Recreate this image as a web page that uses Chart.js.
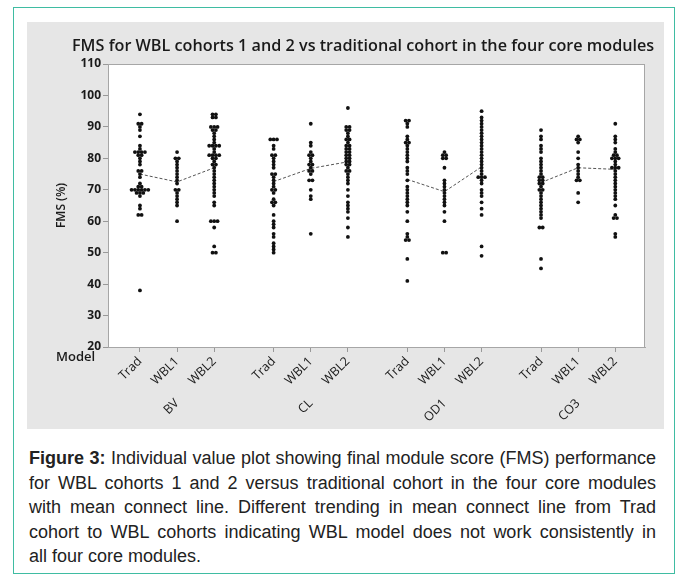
<!DOCTYPE html>
<html>
<head>
<meta charset="utf-8">
<script src="https://cdn.jsdelivr.net/npm/chart.js@4.4.1/dist/chart.umd.min.js"></script>
<style>
  body { margin: 0; background: #fff; width: 682px; height: 578px; position: relative; overflow: hidden; }
  #frame { position: absolute; left: 13px; top: 7px; width: 662px; height: 567px; border: 1.5px solid #3fbca2; box-sizing: border-box; }
  #panel { position: absolute; left: 27px; top: 22px; width: 637px; height: 407px; background: #e6e6e6; }
  #panel canvas { position: absolute; left: 0; top: 0; }
  #title { position: absolute; left: 45px; top: 12px; white-space: nowrap; font: 600 16.2px 'Open Sans', sans-serif; color: #1a1a1a; }
  #model { position: absolute; left: 29px; top: 325px; font: 600 13px 'Open Sans', sans-serif; color: #1a1a1a; }
  #caption { position: absolute; left: 29px; top: 446px; width: 627px; font: 18px 'Liberation Sans', Arial, sans-serif; line-height: 24.5px; color: #222; }
  #caption .j { text-align: justify; text-align-last: justify; white-space: nowrap; }
  #caption b { font-weight: bold; }
</style>
</head>
<body>
<div id="frame"></div>
<div id="panel">
  <canvas id="fmsChart" width="637" height="407"></canvas>
  <div id="title">FMS for WBL cohorts 1 and 2 vs traditional cohort in the four core modules</div>
  <div id="model">Model</div>
</div>
<div id="caption">
  <div class="j"><b>Figure 3:</b> Individual value plot showing final module score (FMS) performance</div>
  <div class="j">for WBL cohorts 1 and 2 versus traditional cohort in the four core modules</div>
  <div class="j">with mean connect line. Different trending in mean connect line from Trad</div>
  <div class="j">cohort to WBL cohorts indicating WBL model does not work consistently in</div>
  <div>all four core modules.</div>
</div>
<script>
const modules = ['BV', 'CL', 'OD1', 'CO3'];
const cohorts = ['Trad', 'WBL1', 'WBL2'];

// individual final module scores (%)
const bvTrad = [94, 91, 91, 90, 89, 87, 84, 83, 82, 82, 82, 82, 81, 81, 80, 79, 78, 76, 76, 75, 74, 72, 71, 71, 70, 70, 70, 70, 70, 70, 69, 69, 69, 68, 65, 64, 62, 62, 38];
const bvWbl1 = [82, 80, 80, 79, 78, 77, 76, 75, 74, 73, 72, 70, 70, 69, 68, 67, 66, 65, 60];
const bvWbl2 = [94, 94, 93, 93, 90, 90, 90, 89, 89, 88, 87, 86, 85, 84, 84, 84, 84, 83, 82, 81, 81, 81, 81, 80, 80, 79, 78, 78, 77, 76, 75, 74, 73, 72, 71, 70, 69, 68, 66, 65, 60, 60, 60, 58, 52, 50, 50];

const clTrad = [86, 86, 86, 84, 83, 81, 81, 80, 79, 78, 77, 75, 75, 74, 73, 72, 71, 70, 70, 69, 67, 66, 66, 65, 62, 60, 59, 58, 56, 55, 53, 52, 51, 50];
const clWbl1 = [91, 85, 84, 82, 81, 81, 80, 79, 78, 78, 77, 76, 76, 75, 73, 73, 70, 68, 67, 56];
const clWbl2 = [96, 90, 90, 89, 89, 88, 87, 86, 86, 85, 84, 84, 83, 83, 82, 82, 81, 81, 80, 80, 79, 79, 78, 78, 77, 76, 76, 75, 74, 73, 72, 70, 68, 66, 65, 64, 63, 61, 58, 55];

const od1Trad = [92, 92, 91, 90, 87, 86, 85, 85, 84, 83, 82, 81, 80, 79, 77, 76, 75, 73, 71, 70, 69, 68, 67, 66, 65, 63, 60, 56, 55, 54, 54, 48, 41];
const od1Wbl1 = [82, 81, 81, 80, 80, 77, 73, 72, 71, 70, 69, 68, 67, 66, 65, 63, 60, 50, 50];
const od1Wbl2 = [95, 93, 92, 91, 90, 89, 88, 87, 86, 85, 84, 83, 82, 81, 80, 79, 78, 77, 76, 75, 74, 74, 74, 73, 72, 70, 69, 68, 66, 64, 62, 52, 49];

const co3Trad = [89, 87, 86, 84, 83, 82, 80, 79, 78, 77, 76, 75, 74, 74, 73, 73, 72, 72, 71, 70, 70, 69, 68, 67, 66, 65, 64, 63, 62, 61, 58, 58, 48, 45];
const co3Wbl1 = [87, 86, 86, 85, 82, 80, 78, 77, 76, 75, 74, 73, 73, 69, 66];
const co3Wbl2 = [91, 87, 86, 85, 83, 82, 81, 81, 80, 80, 80, 79, 78, 77, 77, 77, 76, 75, 74, 73, 72, 71, 70, 69, 68, 67, 65, 62, 61, 61, 56, 55];

// cohort means for the connect line (Trad, WBL1, WBL2)
const meanBV = [75, 72.5, 77];
const meanCL = [72.6, 76.8, 78.9];
const meanOD1 = [73.3, 69.4, 77.3];
const meanCO3 = [72.3, 77, 76.5];

const yTicks = [20, 30, 40, 50, 60, 70, 80, 90, 100, 110];

const scores = [
    [bvTrad, bvWbl1, bvWbl2],
    [clTrad, clWbl1, clWbl2],
    [od1Trad, od1Wbl1, od1Wbl2],
    [co3Trad, co3Wbl1, co3Wbl2]
];
const means = [meanBV, meanCL, meanOD1, meanCO3];

// x layout: cohorts one unit apart, a wider gap between modules
const GROUP_STEP = 3.6;
const DODGE = 0.09;
const xPos = (g, c) => g * GROUP_STEP + c;

// spread equal values side by side like the individual value plot does
function dodge(values, x) {
    const counts = {};
    values.forEach(v => { counts[v] = (counts[v] || 0) + 1; });
    const seen = {};
    return values.map(v => {
        const k = seen[v] = (seen[v] || 0) + 1;
        return { x: x + (k - 1 - (counts[v] - 1) / 2) * DODGE, y: v };
    });
}

const points = [];
const tickPositions = [];
scores.forEach((group, g) => {
    group.forEach((vals, c) => {
        tickPositions.push(xPos(g, c));
        points.push(...dodge(vals, xPos(g, c)));
    });
});
const groupCenters = modules.map((m, g) => xPos(g, 1));

const meanSets = means.map((m, g) => ({
    data: m.map((v, c) => ({ x: xPos(g, c), y: v })),
    showLine: true,
    borderColor: '#555',
    borderWidth: 1,
    borderDash: [3, 2],
    pointRadius: 0,
    order: 2
}));

const plotBox = {
    id: 'plotBox',
    beforeDraw(chart) {
        const { ctx, chartArea: a } = chart;
        ctx.save();
        ctx.fillStyle = '#fff';
        ctx.fillRect(a.left, a.top, a.right - a.left, a.bottom - a.top);
        ctx.restore();
    },
    afterDraw(chart) {
        const { ctx, chartArea: a } = chart;
        ctx.save();
        ctx.strokeStyle = '#a6a6a6';
        ctx.lineWidth = 1;
        ctx.strokeRect(a.left + 0.5, a.top + 0.5, a.right - a.left - 1, a.bottom - a.top);
        ctx.restore();
    }
};

const tickFont = { family: "'Open Sans', sans-serif", size: 12.5 };

new Chart(document.getElementById('fmsChart'), {
    type: 'scatter',
    data: {
        datasets: [
            {
                data: points,
                backgroundColor: '#111',
                borderWidth: 0,
                pointRadius: 1.9,
                order: 1
            },
            ...meanSets
        ]
    },
    options: {
        responsive: false,
        animation: false,
        layout: { padding: { top: 42, right: 19, left: 0, bottom: 0 } },
        plugins: { legend: { display: false }, tooltip: { enabled: false } },
        scales: {
            x: {
                type: 'linear',
                min: -0.86,
                max: 13.6,
                weight: 0,
                afterBuildTicks: s => { s.ticks = tickPositions.map(v => ({ value: v })); },
                afterFit: s => { s.height = 38; },
                grid: { drawOnChartArea: false, drawTicks: true, tickLength: 5, color: '#999' },
                border: { display: true, color: '#a6a6a6' },
                ticks: {
                    autoSkip: false,
                    minRotation: 45,
                    maxRotation: 45,
                    padding: 2,
                    color: '#1a1a1a',
                    font: tickFont,
                    callback: (v, i) => cohorts[i % 3]
                }
            },
            x2: {
                type: 'linear',
                position: 'bottom',
                min: -0.86,
                max: 13.6,
                weight: 1,
                afterBuildTicks: s => { s.ticks = groupCenters.map(v => ({ value: v })); },
                afterFit: s => { s.height = 44; },
                grid: { display: false },
                border: { display: false },
                ticks: {
                    autoSkip: false,
                    minRotation: 45,
                    maxRotation: 45,
                    padding: 3,
                    color: '#1a1a1a',
                    font: tickFont,
                    callback: (v, i) => modules[i]
                }
            },
            y: {
                min: 20,
                max: 110,
                afterBuildTicks: s => { s.ticks = yTicks.map(v => ({ value: v })); },
                afterFit: s => { s.width = 81; },
                grid: { drawOnChartArea: false, drawTicks: true, tickLength: 5, color: '#999' },
                border: { display: true, color: '#a6a6a6' },
                title: {
                    display: true,
                    text: 'FMS (%)',
                    color: '#1a1a1a',
                    font: { family: "'Open Sans', sans-serif", size: 12, weight: '600' },
                    padding: { top: 27, bottom: 0 }
                },
                ticks: {
                    padding: 2,
                    color: '#1a1a1a',
                    font: { family: "'Open Sans', sans-serif", size: 12, weight: '700' }
                }
            }
        }
    },
    plugins: [plotBox]
});
</script>
</body>
</html>
